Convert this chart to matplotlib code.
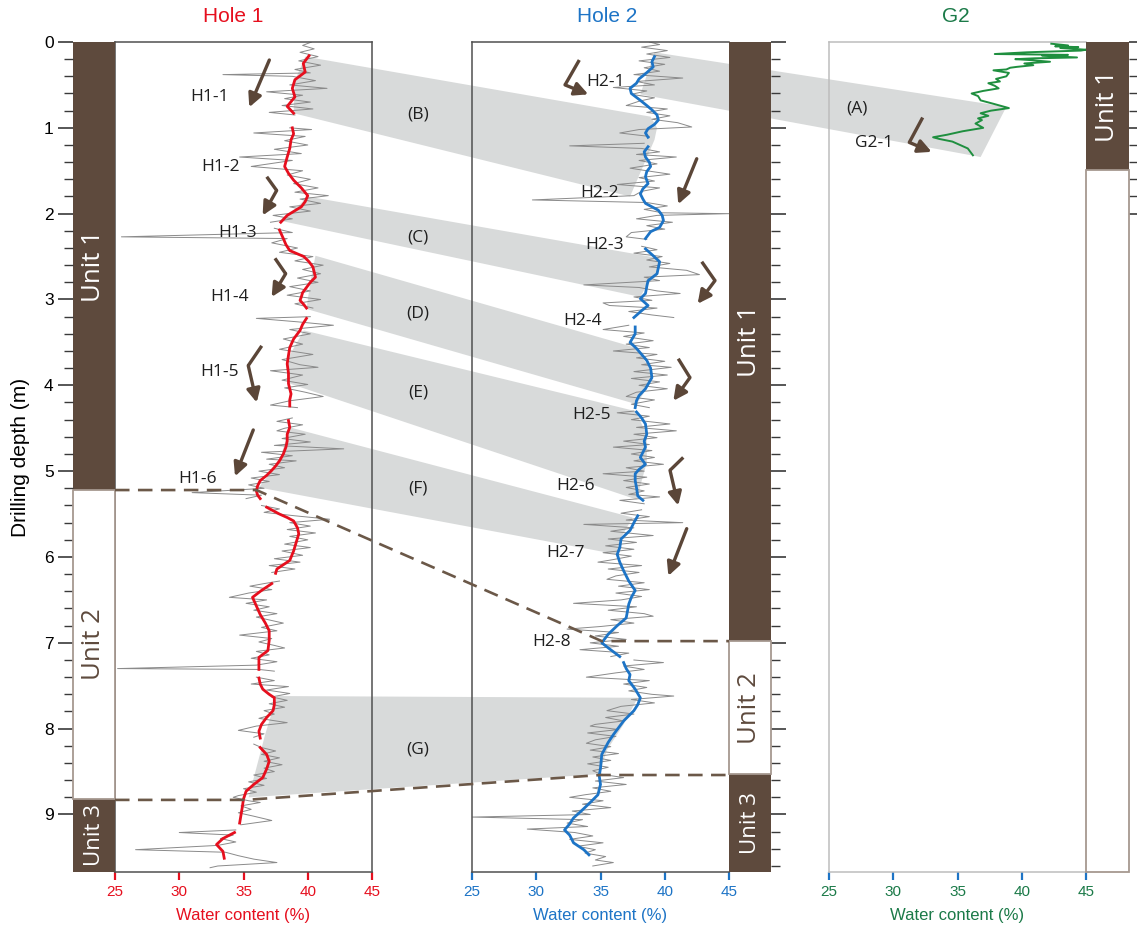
import numpy as np
import matplotlib
matplotlib.use("Agg")
import matplotlib.pyplot as plt
from matplotlib.patches import Polygon, Rectangle
from matplotlib.lines import Line2D

W, H = 1137, 931
DEPTH_MAX = 9.67

# ---- Hole 1: smoothed water content (red) and raw log (grey), one list per core section
h1_smooth_depth = [
    [0.16, 0.25, 0.35, 0.44, 0.54, 0.64, 0.75, 0.83],
    [1.00, 1.07, 1.14, 1.24, 1.34, 1.45, 1.53, 1.61, 1.70, 1.79, 1.86, 1.92, 2.02, 2.10],
    [2.19, 2.29, 2.36, 2.43, 2.50, 2.56, 2.62, 2.68, 2.74, 2.80, 2.86, 2.92, 2.97, 3.01, 3.06, 3.10],
    [3.22, 3.29, 3.36, 3.46, 3.56, 3.65, 3.75, 3.86, 3.98, 4.10, 4.17, 4.24],
    [4.41, 4.49, 4.57, 4.65, 4.72, 4.80, 4.88, 4.94, 4.99, 5.05, 5.11, 5.17, 5.23, 5.28, 5.32],
    [5.42, 5.46, 5.50, 5.54, 5.58, 5.66, 5.73, 5.83, 5.93, 6.04, 6.14, 6.19],
    [6.31, 6.39, 6.47, 6.57, 6.67, 6.77, 6.86, 6.97, 7.09, 7.17, 7.24, 7.31],
    [7.41, 7.48, 7.54, 7.60, 7.64, 7.72, 7.79, 7.87, 7.95, 8.03, 8.11],
    [8.22, 8.30, 8.38, 8.47, 8.57, 8.65, 8.73, 8.82, 8.92, 9.01, 9.10],
    [9.21, 9.28, 9.35, 9.43, 9.51],
]
h1_smooth_wc = [
    [40.1, 39.65, 39.8, 39.0, 38.8, 39.0, 38.4, 38.9],
    [38.8, 38.9, 38.7, 38.6, 38.4, 38.2, 38.5, 38.9, 39.5, 40.0, 39.8, 39.5, 38.4, 37.9],
    [37.8, 38.1, 38.3, 38.6, 39.7, 40.1, 40.4, 40.5, 40.6, 40.2, 39.9, 39.6, 39.5, 39.4, 39.7, 39.9],
    [39.9, 39.6, 39.4, 38.9, 38.6, 38.5, 38.4, 38.5, 38.5, 38.7, 38.6, 38.6],
    [38.5, 38.6, 38.4, 38.4, 38.3, 38.1, 37.8, 37.5, 37.2, 36.8, 36.3, 36.1, 36.0, 36.1, 36.3],
    [36.8, 37.3, 37.8, 38.4, 38.9, 39.2, 39.3, 39.1, 38.9, 38.6, 37.6, 37.5],
    [37.2, 36.4, 35.7, 36.0, 36.3, 36.7, 37.0, 37.0, 36.9, 36.2, 36.2, 36.2],
    [36.2, 36.3, 36.5, 37.0, 37.4, 37.4, 37.3, 36.8, 36.4, 36.2, 36.3],
    [36.3, 36.8, 37.0, 36.8, 36.5, 35.8, 35.2, 35.0, 34.9, 34.8, 34.7],
    [34.3, 33.4, 32.9, 33.4, 33.5],
]
h1_raw_depth = [
    [0.00, 0.04, 0.08, 0.12, 0.17, 0.22, 0.27, 0.32, 0.36, 0.38, 0.40, 0.45, 0.50, 0.54, 0.58, 0.62, 0.66, 0.70, 0.74, 0.78, 0.82, 0.85],
    [1.00, 1.02, 1.06, 1.10, 1.15, 1.20, 1.25, 1.30, 1.34, 1.38, 1.42, 1.45, 1.50, 1.55, 1.60, 1.65, 1.70, 1.75, 1.79, 1.83, 1.88, 1.92, 1.97, 2.02, 2.06, 2.10],
    [2.17, 2.22, 2.27, 2.29, 2.34, 2.40, 2.45, 2.50, 2.55, 2.60, 2.65, 2.70, 2.75, 2.80, 2.85, 2.90, 2.95, 3.00, 3.05, 3.10],
    [3.20, 3.22, 3.26, 3.30, 3.35, 3.40, 3.46, 3.52, 3.58, 3.64, 3.70, 3.76, 3.79, 3.83, 3.88, 3.94, 3.99, 4.03, 4.08, 4.13, 4.18, 4.23, 4.26],
    [4.38, 4.42, 4.46, 4.50, 4.53, 4.57, 4.62, 4.66, 4.70, 4.74, 4.78, 4.82, 4.86, 4.88, 4.92, 4.96, 5.00, 5.04, 5.08, 5.12, 5.16, 5.20, 5.25, 5.28, 5.32],
    [5.40, 5.44, 5.48, 5.52, 5.56, 5.60, 5.64, 5.68, 5.72, 5.76, 5.80, 5.85, 5.89, 5.93, 5.98, 6.02, 6.06, 6.10, 6.14, 6.18],
    [6.28, 6.31, 6.34, 6.38, 6.42, 6.47, 6.50, 6.54, 6.58, 6.62, 6.66, 6.70, 6.74, 6.77, 6.82, 6.86, 6.91, 6.95, 6.99, 7.03, 7.06, 7.10, 7.14, 7.18, 7.22, 7.26, 7.30, 7.31, 7.33],
    [7.40, 7.44, 7.48, 7.51, 7.55, 7.59, 7.63, 7.67, 7.71, 7.75, 7.79, 7.83, 7.88, 7.93, 7.97, 8.02, 8.06, 8.10],
    [8.18, 8.22, 8.26, 8.30, 8.34, 8.38, 8.42, 8.46, 8.50, 8.54, 8.58, 8.62, 8.66, 8.70, 8.74, 8.78, 8.80, 8.84, 8.86, 8.90, 8.94, 8.98, 9.02, 9.07, 9.12],
    [9.18, 9.21, 9.24, 9.28, 9.32, 9.36, 9.41, 9.44, 9.48, 9.52, 9.56, 9.60, 9.62],
]
h1_raw_wc = [
    [40.3, 39.6, 40.5, 39.4, 40.8, 39.3, 41.0, 39.0, 40.2, 33.4, 38.8, 40.6, 38.6, 41.5, 36.8, 39.6, 38.2, 40.2, 38.0, 40.4, 37.0, 39.0],
    [38.6, 40.3, 35.8, 39.8, 38.2, 40.0, 37.4, 39.5, 34.7, 38.8, 37.0, 35.6, 39.6, 38.4, 40.2, 38.9, 40.8, 39.0, 41.6, 39.4, 41.0, 38.6, 40.2, 37.3, 38.8, 37.1],
    [37.4, 38.8, 25.5, 38.4, 37.2, 39.2, 37.8, 40.4, 39.0, 41.2, 39.6, 41.0, 39.2, 40.8, 38.6, 40.2, 38.4, 41.0, 39.0, 40.4],
    [40.2, 36.0, 39.2, 42.0, 38.6, 40.2, 38.1, 39.6, 37.8, 40.4, 38.0, 39.4, 40.8, 37.1, 39.6, 38.0, 40.0, 38.2, 39.8, 41.2, 38.6, 37.1, 39.2],
    [38.8, 37.6, 39.6, 38.2, 37.6, 39.8, 38.0, 40.2, 37.4, 42.8, 36.4, 38.8, 36.8, 39.1, 37.0, 38.2, 36.2, 37.8, 35.6, 37.0, 35.4, 36.6, 31.0, 36.4, 35.2],
    [36.4, 37.8, 36.6, 39.0, 41.7, 38.6, 40.2, 38.4, 40.6, 38.6, 40.0, 38.2, 40.2, 38.0, 39.6, 37.4, 39.4, 37.0, 39.0, 37.2],
    [37.8, 36.6, 35.5, 37.2, 35.4, 33.9, 36.8, 35.2, 37.0, 35.8, 37.6, 36.0, 37.2, 38.1, 36.4, 37.6, 34.7, 37.2, 36.2, 37.4, 38.2, 36.0, 37.0, 35.6, 37.6, 36.0, 25.2, 36.2, 37.4],
    [36.0, 37.4, 35.6, 38.5, 36.8, 38.6, 37.2, 38.4, 37.0, 38.2, 36.6, 37.4, 36.2, 38.4, 36.0, 34.6, 36.6, 35.8],
    [35.8, 36.4, 37.5, 36.4, 37.8, 36.6, 38.0, 36.6, 37.4, 35.8, 36.8, 35.4, 36.6, 35.0, 36.0, 34.6, 34.2, 35.4, 36.3, 34.8, 35.6, 34.6, 35.8, 37.2, 34.8],
    [34.4, 30.0, 34.2, 33.2, 34.4, 33.0, 26.6, 33.6, 34.6, 35.8, 37.6, 33.0, 32.4],
]

# ---- Hole 2
h2_smooth_depth = [
    [0.17, 0.23, 0.29, 0.37, 0.43, 0.48, 0.54, 0.60, 0.68, 0.74, 0.79, 0.85, 0.91, 0.96, 1.01, 1.06, 1.11],
    [1.22, 1.28, 1.34, 1.40, 1.45, 1.51, 1.57, 1.65, 1.71, 1.77, 1.83, 1.88, 1.96, 2.02, 2.08, 2.16, 2.21, 2.29],
    [2.41, 2.49, 2.56, 2.63, 2.70, 2.78, 2.85, 2.93, 2.99, 3.07, 3.13, 3.21],
    [3.32, 3.40, 3.50, 3.57, 3.64, 3.71, 3.80, 3.91, 4.04, 4.12, 4.18, 4.26],
    [4.31, 4.38, 4.45, 4.57, 4.65, 4.72, 4.84, 4.92, 4.98, 5.03, 5.11, 5.19, 5.29, 5.34],
    [5.52, 5.60, 5.69, 5.79, 5.89, 5.97, 6.06, 6.16, 6.28, 6.39, 6.47, 6.55, 6.63, 6.71, 6.80, 6.90, 7.00, 7.07, 7.16],
    [7.23, 7.30, 7.37, 7.44, 7.54, 7.64, 7.72, 7.79, 7.91, 8.07, 8.16, 8.30, 8.46, 8.55, 8.65, 8.77, 8.86, 8.96, 9.04, 9.11, 9.18, 9.24, 9.33, 9.41, 9.47],
]
h2_smooth_wc = [
    [39.2, 39.0, 39.1, 38.5, 38.0, 37.8, 37.3, 37.4, 38.1, 38.6, 39.0, 39.4, 39.5, 39.2, 38.7, 38.5, 38.7],
    [38.7, 38.4, 38.5, 38.8, 38.9, 38.6, 38.5, 38.7, 38.3, 38.1, 38.3, 38.5, 39.5, 39.8, 39.9, 39.6, 38.9, 38.5],
    [38.5, 39.1, 39.6, 39.5, 39.4, 38.7, 38.6, 38.5, 38.1, 38.7, 38.2, 37.6],
    [37.7, 37.7, 37.3, 37.8, 38.2, 38.6, 38.9, 39.0, 38.5, 38.0, 37.8, 37.7],
    [37.8, 38.2, 38.5, 38.6, 38.4, 38.5, 38.1, 38.5, 38.0, 37.7, 37.7, 37.8, 37.9, 38.3],
    [37.9, 37.6, 37.3, 36.6, 36.5, 36.3, 36.5, 36.8, 37.2, 37.7, 37.4, 37.2, 37.1, 37.0, 36.3, 35.6, 35.1, 35.7, 36.5],
    [36.8, 37.0, 37.3, 37.2, 37.7, 38.1, 37.9, 37.6, 36.8, 36.0, 35.6, 35.1, 35.0, 34.9, 35.0, 34.8, 34.2, 33.5, 32.9, 32.6, 32.2, 32.6, 32.9, 33.7, 34.1],
]
h2_raw_depth = [
    [0.00, 0.03, 0.06, 0.10, 0.14, 0.18, 0.22, 0.26, 0.30, 0.34, 0.38, 0.42, 0.46, 0.50, 0.53, 0.57, 0.61, 0.65, 0.69, 0.74, 0.78, 0.82, 0.86, 0.90, 0.94, 0.99, 1.02, 1.06, 1.10],
    [1.18, 1.21, 1.24, 1.28, 1.31, 1.34, 1.38, 1.42, 1.47, 1.50, 1.54, 1.58, 1.62, 1.66, 1.70, 1.74, 1.79, 1.84, 1.87, 1.91, 1.95, 1.99, 2.00, 2.02, 2.06, 2.10, 2.14, 2.18, 2.22, 2.27, 2.30],
    [2.38, 2.42, 2.46, 2.50, 2.54, 2.58, 2.62, 2.66, 2.71, 2.74, 2.78, 2.83, 2.86, 2.90, 2.93, 2.97, 3.01, 3.04, 3.07, 3.10, 3.14, 3.18, 3.21],
    [3.30, 3.35, 3.39, 3.43, 3.48, 3.52, 3.56, 3.60, 3.64, 3.68, 3.72, 3.76, 3.79, 3.84, 3.88, 3.92, 3.96, 4.00, 4.04, 4.08, 4.13, 4.17, 4.22, 4.26],
    [4.30, 4.32, 4.36, 4.40, 4.45, 4.49, 4.53, 4.57, 4.61, 4.65, 4.69, 4.72, 4.76, 4.80, 4.84, 4.88, 4.92, 4.96, 5.00, 5.03, 5.07, 5.11, 5.15, 5.19, 5.23, 5.27, 5.30, 5.34, 5.38],
    [5.45, 5.49, 5.53, 5.57, 5.60, 5.62, 5.66, 5.70, 5.75, 5.79, 5.83, 5.87, 5.91, 5.95, 5.99, 6.03, 6.06, 6.10, 6.14, 6.18, 6.22, 6.26, 6.30, 6.34, 6.38, 6.42, 6.46, 6.50,
     6.54, 6.58, 6.62, 6.66, 6.69, 6.73, 6.77, 6.81, 6.84, 6.88, 6.92, 6.96, 7.00, 7.04, 7.08, 7.12, 7.16],
    [7.20, 7.23, 7.27, 7.31, 7.35, 7.40, 7.44, 7.48, 7.52, 7.56, 7.60, 7.62, 7.66, 7.70, 7.74, 7.79, 7.83, 7.87, 7.91, 7.95, 7.97, 8.01, 8.05, 8.09, 8.13, 8.17, 8.21, 8.25, 8.29, 8.33, 8.37,
     8.41, 8.45, 8.49, 8.53, 8.57, 8.61, 8.65, 8.69, 8.73, 8.77, 8.80, 8.84, 8.88, 8.92, 8.96, 9.00, 9.03, 9.06, 9.10, 9.14, 9.17, 9.21, 9.25, 9.29, 9.33, 9.37, 9.41, 9.45, 9.49, 9.53,
     9.56, 9.60],
]
h2_raw_wc = [
    [38.8, 39.6, 38.2, 40.2, 38.6, 40.4, 38.0, 40.0, 38.4, 39.6, 37.6, 41.4, 37.8, 39.2, 36.0, 38.6, 37.4, 39.2, 38.0, 37.0, 40.2, 38.6, 40.4, 39.0, 41.0, 42.1, 38.0, 36.5, 38.8],
    [38.4, 32.6, 38.2, 39.6, 37.8, 40.9, 38.0, 39.4, 37.3, 38.6, 40.4, 38.0, 39.2, 36.3, 39.6, 38.2, 37.6, 29.7, 38.6, 40.2, 38.4, 39.8, 45.0, 39.4, 37.8, 40.6, 38.6, 40.0, 37.4, 37.0, 38.6],
    [38.2, 39.4, 37.6, 39.8, 38.6, 40.4, 38.8, 41.7, 42.7, 38.4, 39.6, 33.7, 38.0, 39.4, 41.2, 37.6, 39.0, 35.2, 35.7, 39.4, 37.2, 39.0, 40.7],
    [37.2, 35.2, 38.4, 36.8, 39.1, 37.0, 38.8, 36.0, 39.4, 37.8, 40.0, 38.2, 40.5, 37.6, 40.2, 37.4, 39.6, 38.0, 40.2, 37.8, 37.0, 39.2, 37.4, 38.8],
    [37.6, 36.3, 38.8, 37.4, 40.4, 37.8, 40.9, 37.6, 39.4, 36.8, 38.8, 36.0, 39.0, 37.4, 39.2, 37.6, 39.9, 37.0, 38.4, 35.2, 38.6, 36.8, 38.8, 37.0, 38.4, 37.2, 39.6, 36.5, 38.4],
    [38.2, 36.6, 38.8, 37.0, 41.4, 33.7, 37.6, 35.8, 39.1, 35.6, 37.8, 35.4, 37.6, 35.2, 37.4, 36.0, 34.8, 38.2, 35.6, 38.0, 36.2, 35.5, 38.4, 36.4, 38.8, 36.2, 38.2, 36.6,
     32.9, 37.8, 35.6, 38.4, 39.1, 35.8, 37.6, 35.0, 32.4, 36.4, 34.6, 37.0, 34.2, 36.4, 33.4, 37.2, 35.8],
    [37.6, 39.9, 36.8, 38.4, 36.2, 33.9, 38.8, 36.8, 38.6, 37.2, 39.0, 40.7, 37.4, 39.2, 36.6, 35.5, 37.6, 35.4, 36.8, 34.6, 34.2, 36.4, 34.0, 36.2, 34.6, 33.9, 35.8, 34.2, 36.4, 34.4, 35.8,
     34.0, 35.6, 34.4, 35.0, 36.8, 34.6, 37.0, 34.4, 35.8, 33.8, 32.6, 35.2, 33.6, 35.8, 32.8, 34.2, 25.0, 33.6, 32.4, 34.0, 29.3, 33.0, 34.4, 32.6, 35.2, 33.2, 34.6, 33.8, 35.4, 34.6,
     36.0, 34.4],
]

# ---- G2 (single raw log)
g2_depth = [0.02, 0.04, 0.05, 0.06, 0.07, 0.09, 0.10, 0.12, 0.14, 0.15, 0.16, 0.18, 0.19, 0.20, 0.21, 0.23, 0.25,
            0.27, 0.29, 0.30, 0.32, 0.33, 0.36, 0.40, 0.43, 0.46, 0.48, 0.51, 0.54, 0.57, 0.60, 0.63, 0.68,
            0.72, 0.77, 0.80, 0.83, 0.86, 0.89, 0.91, 0.95, 1.00, 1.04, 1.08, 1.11, 1.13, 1.16, 1.20, 1.24,
            1.28, 1.32]
g2_wc = [42.3, 43.6, 42.6, 44.4, 43.0, 45.0, 44.6, 40.4, 37.9, 43.6, 41.6, 44.3, 41.0, 39.5, 40.6, 42.2, 40.2,
         40.9, 39.6, 39.1, 38.8, 37.8, 39.0, 38.8, 38.0, 38.3, 37.4, 37.9, 38.2, 37.0, 36.1, 36.6, 36.8,
         37.8, 39.0, 37.6, 36.8, 37.4, 36.6, 36.9, 36.4, 37.0, 35.4, 34.2, 33.1, 33.6, 34.6, 35.2, 35.8,
         36.0, 36.2]

# ---- lithological units (top, bottom, dark fill?, label)
h1_units = [(0.0, 5.22, True, "Unit 1"), (5.22, 8.82, False, "Unit 2"), (8.82, DEPTH_MAX, True, "Unit 3")]
h2_units = [(0.0, 6.98, True, "Unit 1"), (6.98, 8.53, False, "Unit 2"), (8.53, DEPTH_MAX, True, "Unit 3")]
g2_units = [(0.0, 1.49, True, "Unit 1"), (1.49, DEPTH_MAX, False, "")]

# ---- correlated intervals, vertices as (panel, water content, depth)
bands = {
    "A": [("h2", 39.2, 0.12), ("g2", 38.8, 0.755), ("g2", 36.8, 1.34), ("h2", 38.1, 0.61)],
    "B": [("h1", 39.8, 0.17), ("h2", 38.9, 0.87), ("h2", 39.4, 1.00), ("h2", 39.2, 1.14),
          ("h2", 37.3, 1.80), ("h1", 38.9, 0.83), ("h1", 39.0, 0.45)],
    "C": [("h1", 40.0, 1.80), ("h2", 39.6, 2.52), ("h2", 39.3, 2.72), ("h2", 38.5, 2.86),
          ("h2", 38.1, 2.97), ("h1", 37.8, 2.08), ("h1", 39.0, 1.95)],
    "D": [("h1", 40.6, 2.49), ("h2", 37.7, 3.56), ("h2", 38.7, 3.77), ("h2", 39.0, 3.92),
          ("h2", 38.5, 4.06), ("h2", 37.8, 4.22), ("h1", 39.9, 3.11), ("h1", 40.2, 2.80)],
    "E": [("h1", 39.7, 3.36), ("h2", 37.7, 4.30), ("h2", 38.6, 4.57), ("h2", 38.6, 4.90),
          ("h2", 37.8, 5.33), ("h1", 38.6, 3.98), ("h1", 38.4, 3.70)],
    "F": [("h1", 38.6, 4.49), ("h2", 37.5, 5.54), ("h2", 36.5, 5.80), ("h2", 36.3, 5.97),
          ("h1", 36.2, 5.19), ("h1", 37.8, 4.88)],
    "G": [("h1", 37.6, 7.62), ("h2", 37.9, 7.64), ("h2", 36.8, 7.95), ("h2", 35.5, 8.25),
          ("h2", 34.9, 8.53), ("h1", 35.4, 8.80), ("h1", 36.7, 8.06)],
}
band_label_depth = {"B": 0.85, "C": 2.28, "D": 3.16, "E": 4.08, "F": 5.20, "G": 8.24}

# unit boundary correlation lines
boundary_12 = [("h1", 25.0, 5.22), ("h1", 36.0, 5.22), ("h2", 35.1, 6.98), ("h2", 45.0, 6.98)]
boundary_23 = [("h1", 25.0, 8.83), ("h1", 35.2, 8.83), ("h2", 35.0, 8.54), ("h2", 45.0, 8.54)]

# sample labels: (panel, text, water content, depth)
sample_labels = [
    ("h1", "H1-1", 33.9, 0.64), ("h1", "H1-2", 34.7, 1.46), ("h1", "H1-3", 36.05, 2.23),
    ("h1", "H1-4", 35.4, 2.97), ("h1", "H1-5", 34.65, 3.85), ("h1", "H1-6", 32.95, 5.09),
    ("h2", "H2-1", 36.9, 0.47), ("h2", "H2-2", 36.4, 1.76), ("h2", "H2-3", 36.8, 2.37),
    ("h2", "H2-4", 35.1, 3.25), ("h2", "H2-5", 35.8, 4.35), ("h2", "H2-6", 34.6, 5.17),
    ("h2", "H2-7", 33.8, 5.95), ("h2", "H2-8", 32.7, 6.99), ("g2", "G2-1", 30.0, 1.18),
]

# trend arrows: (panel, [(wc, depth), ...]) the last point is the head
arrows = [
    ("h1", [(37.01, 0.21), (35.45, 0.76)]),
    ("h1", [(36.81, 1.57), (37.58, 1.73), (36.49, 2.02)]),
    ("h1", [(37.45, 2.52), (38.28, 2.70), (37.19, 2.97)]),
    ("h1", [(36.42, 3.54), (35.37, 3.77), (36.03, 4.20)]),
    ("h1", [(35.76, 4.52), (34.34, 5.06)]),
    ("h2", [(33.35, 0.21), (32.24, 0.50), (34.05, 0.61)]),
    ("h2", [(42.49, 1.36), (41.05, 1.89)]),
    ("h2", [(42.88, 2.56), (43.91, 2.78), (42.56, 3.05)]),
    ("h2", [(41.05, 3.69), (41.96, 3.91), (40.67, 4.18)]),
    ("h2", [(41.44, 4.84), (40.41, 4.99), (41.05, 5.40)]),
    ("h2", [(41.71, 5.67), (40.28, 6.22)]),
    ("g2", [(32.29, 0.88), (31.25, 1.17), (32.99, 1.28)]),
]

RED = "#e60f1e"
BLUE = "#1d74c6"
GREEN = "#1f8f3f"
GREEN_TXT = "#1b7a48"
RAW = "#8a8a8a"
BROWN = "#5e4a3d"
UNIT_EDGE = "#a69890"
BAND = "#d8dada"
ARROW = "#5b4638"
DASH = "#6b5848"
TXT_FONT = ["Open Sans", "DejaVu Sans"]
AX_FONT = ["Liberation Sans", "DejaVu Sans"]
NARROW_FONT = ["Liberation Sans Narrow", "Liberation Sans", "DejaVu Sans"]

plt.rcParams["font.family"] = AX_FONT


def join_segments(depth_segs, wc_segs):
    d_out, w_out = [], []
    for ds, ws in zip(depth_segs, wc_segs, strict=True):
        for d, w in zip(ds, ws, strict=True):
            d_out.append(d)
            w_out.append(w)
        d_out.append(np.nan)
        w_out.append(np.nan)
    return np.array(w_out), np.array(d_out)


fig = plt.figure(figsize=(W / 100, H / 100), dpi=100)


def px_axes(x0, y0, x1, y1, **kw):
    return fig.add_axes([x0 / W, 1 - y1 / H, (x1 - x0) / W, (y1 - y0) / H], **kw)


ax1 = px_axes(115, 42, 372, 872)
ax2 = px_axes(472, 42, 729, 872)
ax3 = px_axes(829, 42, 1086, 872)
u1 = px_axes(73, 42, 115, 872)
u2 = px_axes(729, 42, 771, 872)
u3 = px_axes(1086, 42, 1129, 872)
panels = {"h1": ax1, "h2": ax2, "g2": ax3}


def setup_log(ax, tick_color, label_color, spine_color, hide_right=False):
    ax.set_xlim(25, 45)
    ax.set_ylim(DEPTH_MAX, 0)
    ax.patch.set_visible(False)
    ax.set_xticks([25, 30, 35, 40, 45])
    ax.set_yticks([])
    ax.tick_params(axis="x", direction="out", length=5.5, width=1.6, color=tick_color,
                   labelcolor=label_color, labelsize=11, pad=4)
    for lab in ax.get_xticklabels():
        lab.set_family(NARROW_FONT)
    for s in ax.spines.values():
        s.set_color(spine_color)
        s.set_linewidth(1.1)
    if hide_right:
        ax.spines["right"].set_visible(False)
    ax.set_xlabel("Water content (%)", color=label_color, fontsize=12, labelpad=6)


setup_log(ax1, RED, RED, "#505050")
setup_log(ax2, BLUE, BLUE, "#505050", hide_right=True)
setup_log(ax3, BLUE, GREEN_TXT, "#bdbdbd", hide_right=True)


def setup_units(ax, units, side, tick_max, small_last=True):
    ax.set_xlim(0, 1)
    ax.set_ylim(DEPTH_MAX, 0)
    ax.set_xticks([])
    for s in ax.spines.values():
        s.set_visible(False)
    for top, bot, dark, label in units:
        if dark:
            ax.add_patch(Rectangle((0, top), 1, bot - top, facecolor=BROWN, edgecolor="none"))
    for top, bot, dark, label in units:
        if not dark:
            ax.add_patch(Rectangle((0, top), 1, bot - top, facecolor="white", edgecolor=UNIT_EDGE,
                                   lw=1.3, clip_on=False, zorder=2))
    for top, bot, dark, label in units:
        if not label:
            continue
        size = 16 if label == "Unit 3" else 18.5
        ax.text(0.5, (top + bot) / 2, label, rotation=90, ha="center", va="center",
                color="white" if dark else BROWN, fontsize=size, family=TXT_FONT, zorder=3)
    ax.yaxis.set_ticks_position(side)
    ax.set_yticks(np.arange(0, tick_max + 0.01, 1))
    ax.set_yticks(np.arange(0, tick_max + 0.01, 0.2), minor=True)
    ax.tick_params(axis="y", which="major", length=11, width=1.2, color="#3a3a3a", labelsize=12.5, pad=3)
    ax.tick_params(axis="y", which="minor", length=6.5, width=1.0, color="#3a3a3a")
    if side == "right":
        ax.tick_params(axis="y", which="both", labelleft=False, labelright=False)


setup_units(u1, h1_units, "left", 9)
setup_units(u2, h2_units, "right", 9.6)
setup_units(u3, g2_units, "right", 2)
u1.set_ylabel("Drilling depth (m)", fontsize=15, labelpad=10)

# water content logs
w, d = join_segments(h1_raw_depth, h1_raw_wc)
ax1.plot(w, d, color=RAW, lw=0.7, zorder=2)
w, d = join_segments(h1_smooth_depth, h1_smooth_wc)
ax1.plot(w, d, color=RED, lw=2.0, zorder=3)
w, d = join_segments(h2_raw_depth, h2_raw_wc)
ax2.plot(w, d, color=RAW, lw=0.7, zorder=2)
w, d = join_segments(h2_smooth_depth, h2_smooth_wc)
ax2.plot(w, d, color=BLUE, lw=2.0, zorder=3)
ax3.plot(g2_wc, g2_depth, color=GREEN, lw=1.4, zorder=3)


def to_fig(panel, wc, depth):
    ax = panels[panel]
    disp = ax.transData.transform((wc, depth))
    return fig.transFigure.inverted().transform(disp)


# correlation bands behind everything
for key, verts in bands.items():
    pts = [to_fig(p, wc, dp) for p, wc, dp in verts]
    fig.add_artist(Polygon(pts, closed=True, facecolor=BAND, edgecolor="none",
                           transform=fig.transFigure, zorder=-1))

for key, dp in band_label_depth.items():
    fx, fy = to_fig("h1", 25, dp)
    fig.text(418 / W, fy, f"({key})", ha="center", va="center", fontsize=12.5,
             family=TXT_FONT, color="#1f1f1f")
ax3.text(27.15, 0.77, "(A)", ha="center", va="center", fontsize=12.5, family=TXT_FONT, color="#1f1f1f")

for line in (boundary_12, boundary_23):
    pts = np.array([to_fig(p, wc, dp) for p, wc, dp in line])
    fig.add_artist(Line2D(pts[:, 0], pts[:, 1], transform=fig.transFigure, color=DASH,
                          lw=1.9, dashes=(5.5, 3.2), zorder=4))

for panel, text, wc, dp in sample_labels:
    panels[panel].text(wc, dp, text, ha="right", va="center", fontsize=12.5,
                       family=TXT_FONT, color="#1f1f1f", zorder=5)

for panel, pts in arrows:
    ax = panels[panel]
    xs = [p[0] for p in pts]
    ys = [p[1] for p in pts]
    if len(pts) > 2:
        ax.plot(xs[:-1], ys[:-1], color=ARROW, lw=2.4, solid_joinstyle="miter",
                solid_capstyle="butt", zorder=4)
    ax.annotate("", xy=pts[-1], xytext=pts[-2],
                arrowprops=dict(arrowstyle="-|>", color=ARROW, lw=2.4, mutation_scale=20,
                                shrinkA=0, shrinkB=0), zorder=4)

# panel titles
fig.text(233.5 / W, 1 - 17 / H, "Hole 1", color=RED, fontsize=15, ha="center", va="center")
fig.text(607 / W, 1 - 17 / H, "Hole 2", color=BLUE, fontsize=15, ha="center", va="center")
fig.text(956 / W, 1 - 17 / H, "G2", color=GREEN_TXT, fontsize=15, ha="center", va="center")

fig.savefig("out.png", dpi=100)
